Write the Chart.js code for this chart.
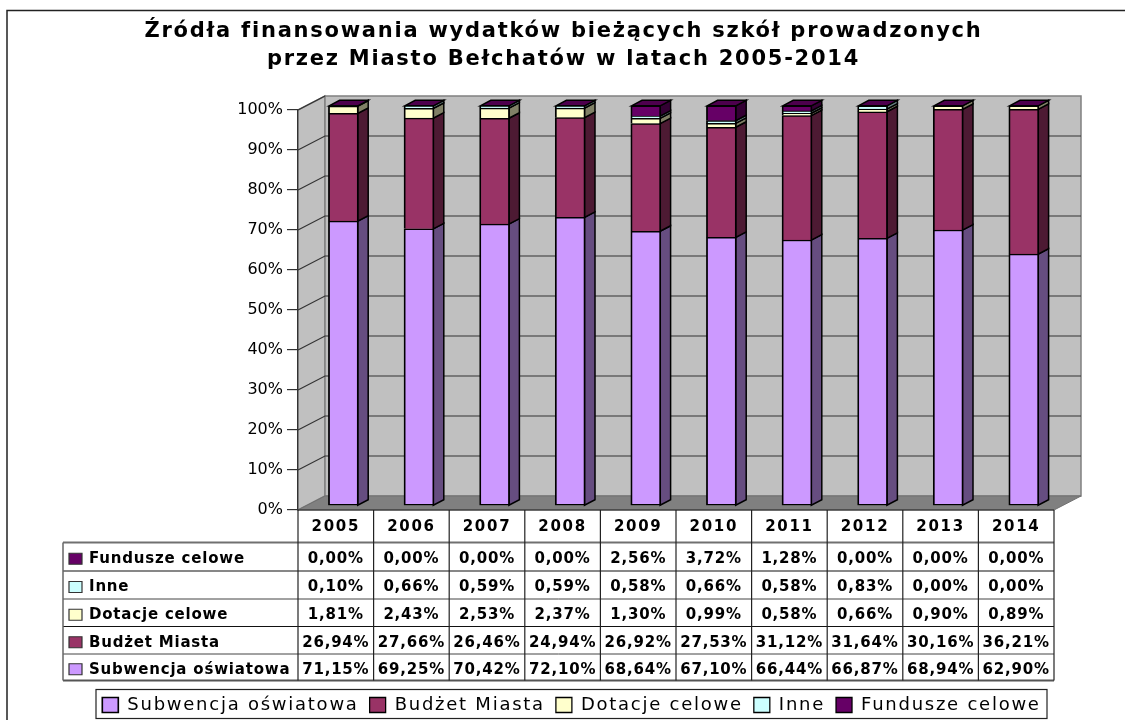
<!DOCTYPE html>
<html lang="pl">
<head>
<meta charset="utf-8">
<title>Źródła finansowania wydatków bieżących szkół</title>
<script src="https://cdn.jsdelivr.net/npm/chart.js@4"></script>
<style>html,body{margin:0;padding:0;background:#fff}canvas{display:block}</style>
</head>
<body>
<canvas id="c" width="1125" height="720"></canvas>
<script>
const years = ['2005','2006','2007','2008','2009','2010','2011','2012','2013','2014'];
const subwencja = [71.15,69.25,70.42,72.10,68.64,67.10,66.44,66.87,68.94,62.90];
const budzet    = [26.94,27.66,26.46,24.94,26.92,27.53,31.12,31.64,30.16,36.21];
const dotacje   = [1.81,2.43,2.53,2.37,1.30,0.99,0.58,0.66,0.90,0.89];
const inne      = [0.10,0.66,0.59,0.59,0.58,0.66,0.58,0.83,0.00,0.00];
const fundusze  = [0.00,0.00,0.00,0.00,2.56,3.72,1.28,0.00,0.00,0.00];
const seriesNames  = ['Subwencja oświatowa','Budżet Miasta','Dotacje celowe','Inne','Fundusze celowe'];
const seriesValues = [subwencja,budzet,dotacje,inne,fundusze];
const seriesColors = ['#cc99ff','#993366','#ffffcc','#ccffff','#660066'];
const titleLines = ['Źródła finansowania wydatków bieżących szkół prowadzonych','przez Miasto Bełchatów w latach 2005-2014'];

const FONT = '"DejaVu Sans"';
const WALL = {dx:27, dy:-14};
const BAR = {ox:7.6, oy:-4.2, dx:10.5, dy:-5.5};
const rowLines = [542.5,571,599,626.5,654,680.5];
const rowLineWidths = [2,1.2,1,1.2,1,2];
const rowLineColors = ['#707070','#111','#444','#111','#444','#555'];

function shade(hex,f){
  const n=parseInt(hex.slice(1),16);
  return 'rgb('+[(n>>16)&255,(n>>8)&255,n&255].map(v=>Math.round(v*f)).join(',')+')';
}
function poly(ctx,pts,fill,stroke,lw){
  ctx.beginPath();
  pts.forEach((p,i)=>i?ctx.lineTo(p[0],p[1]):ctx.moveTo(p[0],p[1]));
  ctx.closePath();
  if(fill){ctx.fillStyle=fill;ctx.fill();}
  if(stroke){ctx.strokeStyle=stroke;ctx.lineWidth=lw||1;ctx.stroke();}
}
function spaced(obj,name,ctx,sp){
  const orig=obj[name];
  obj[name]=function(){ctx.save();ctx.letterSpacing=sp;const r=orig.apply(this,arguments);ctx.restore();return r;};
}

const scene3d = {
  id:'scene3d',
  beforeLayout(chart){chart.ctx.letterSpacing='1.75px';},
  afterLayout(chart){
    const ctx=chart.ctx;
    ctx.letterSpacing='0px';
    const l=chart.legend;
    l.left=46; l.right=1097; l.top=685; l.bottom=719;
    const t=chart.titleBlock;
    t.left=1; t.right=1126;
    if(!chart.$patched){
      chart.$patched=true;
      spaced(chart.legend,'draw',ctx,'1.75px');
      spaced(chart.titleBlock,'draw',ctx,'1.75px');
      spaced(chart.scales.x,'drawLabels',ctx,'1.7px');
    }
  },
  beforeDraw(chart){
    const ctx=chart.ctx, a=chart.chartArea, y=chart.scales.y;
    ctx.save();
    ctx.fillStyle='#fff';ctx.fillRect(0,0,chart.width,chart.height);
    ctx.strokeStyle='#222';ctx.lineWidth=1.5;
    ctx.beginPath();ctx.moveTo(7,720);ctx.lineTo(7,10.5);ctx.lineTo(1125,10.5);ctx.stroke();
    const b=a.bottom,t=a.top,L=a.left,R=a.right,dx=WALL.dx,dy=WALL.dy;
    poly(ctx,[[L,t],[L+dx,t+dy],[L+dx,b+dy],[L,b]],'#c0c0c0','#808080',1.5);
    poly(ctx,[[L+dx,t+dy],[R+dx,t+dy],[R+dx,b+dy],[L+dx,b+dy]],'#c0c0c0','#808080',1.5);
    poly(ctx,[[L,b],[L+dx,b+dy],[R+dx,b+dy],[R,b]],'#808080','#707070',1);
    y.ticks.forEach(tk=>{
      const p=y.getPixelForValue(tk.value);
      if(tk.value===0) return;
      ctx.strokeStyle='#333';ctx.lineWidth=1.2;
      ctx.beginPath();ctx.moveTo(L,p);ctx.lineTo(L+dx,p+dy);
      if(tk.value<100) ctx.lineTo(R+dx,p+dy);
      ctx.stroke();
    });
    ctx.restore();
  },
  beforeDatasetsDraw(chart){
    const ctx=chart.ctx;
    ctx.save();
    ctx.translate(BAR.ox,BAR.oy);
    const n=chart.data.datasets.length;
    for(let i=0;i<n;i++){
      const col=seriesColors[i];
      chart.getDatasetMeta(i).data.forEach(el=>{
        const r=el.x+el.width/2-0.7, top=el.y, base=el.base;
        if(Math.abs(base-top)<0.01) return;
        poly(ctx,[[r,top],[r+BAR.dx,top+BAR.dy],[r+BAR.dx,base+BAR.dy],[r,base]],shade(col,0.5),'#000',1.5);
      });
    }
    chart.getDatasetMeta(n-1).data.forEach(el=>{
      const l=el.x-el.width/2+0.7, r=el.x+el.width/2-0.7, top=el.y;
      poly(ctx,[[l,top],[l+BAR.dx,top+BAR.dy],[r+BAR.dx,top+BAR.dy],[r,top]],shade(seriesColors[n-1],0.75),'#000',1.5);
    });
  },
  afterDatasetsDraw(chart){chart.ctx.restore();},
  afterDraw(chart){
    const ctx=chart.ctx, a=chart.chartArea, x=chart.scales.x;
    ctx.save();
    const tableLeft=63;
    rowLines.forEach((yy,i)=>{
      ctx.strokeStyle=rowLineColors[i];ctx.lineWidth=rowLineWidths[i];
      ctx.beginPath();ctx.moveTo(tableLeft,yy);ctx.lineTo(a.right,yy);ctx.stroke();
    });
    ctx.strokeStyle='#222';ctx.lineWidth=1.2;
    ctx.beginPath();ctx.moveTo(a.left,a.bottom);ctx.lineTo(a.right,a.bottom);ctx.stroke();
    for(let i=0;i<=years.length;i++){
      const px=a.left+(a.right-a.left)*i/years.length;
      ctx.beginPath();ctx.moveTo(px,a.bottom);ctx.lineTo(px,rowLines[5]);ctx.stroke();
    }
    ctx.strokeStyle='#666';ctx.lineWidth=1.5;
    ctx.beginPath();ctx.moveTo(tableLeft,rowLines[0]);ctx.lineTo(tableLeft,rowLines[5]);ctx.stroke();

    ctx.fillStyle='#000';ctx.textBaseline='middle';
    ctx.font='bold 15px '+FONT;
    ctx.letterSpacing='0.8px';
    for(let r=0;r<5;r++){
      const s=4-r, cy=(rowLines[r]+rowLines[r+1])/2+2.5;
      poly(ctx,[[69,cy-6],[82,cy-6],[82,cy+5],[69,cy+5]],seriesColors[s],'#333',1.2);
      ctx.fillStyle='#000';ctx.textAlign='left';
      ctx.fillText(seriesNames[s],89,cy);
      ctx.textAlign='center';
      seriesValues[s].forEach((v,i)=>{
        ctx.fillText(v.toFixed(2).replace('.',',')+'%',x.getPixelForTick(i),cy);
      });
    }
    ctx.letterSpacing='0px';
    ctx.strokeStyle='#222';ctx.lineWidth=1.2;
    ctx.strokeRect(96,689.5,951,29);
    ctx.restore();
  }
};

new Chart(document.getElementById('c'),{
  type:'bar',
  data:{
    labels:years,
    datasets:seriesNames.map((name,i)=>({
      label:name,data:seriesValues[i],backgroundColor:seriesColors[i],
      borderColor:'#000',borderWidth:{top:1.5,left:1.8,right:1.8,bottom:i===0?1.5:0},barThickness:30,borderSkipped:false
    }))
  },
  plugins:[scene3d],
  options:{
    responsive:false,animation:false,
    layout:{padding:{left:0,right:71,top:0,bottom:0}},
    plugins:{
      tooltip:{enabled:false},
      title:{display:true,text:titleLines,color:'#000',
        font:{family:FONT,size:21,weight:'bold',lineHeight:1.35},
        padding:{top:17,bottom:36.3}},
      legend:{display:true,position:'bottom',
        labels:{color:'#000',font:{family:FONT,size:18},boxWidth:16,boxHeight:15,padding:11}}
    },
    scales:{
      x:{stacked:true,
        grid:{display:false},border:{display:false},
        ticks:{color:'#000',font:{family:FONT,size:15,weight:'bold'},padding:0,maxRotation:0,autoSkip:false},
        afterFit(s){s.height=720-510-(s.chart.legend?s.chart.legend.height:30);}
      },
      y:{stacked:true,min:0,max:100,
        grid:{drawOnChartArea:false,tickLength:11,color:'#333',lineWidth:1.2},
        border:{display:true,color:'#333',width:1.2},
        ticks:{stepSize:10,color:'#000',font:{family:FONT,size:16},padding:4,callback:v=>v+'%'},
        afterFit(s){s.width=298;}
      }
    }
  }
});
</script>
</body>
</html>
